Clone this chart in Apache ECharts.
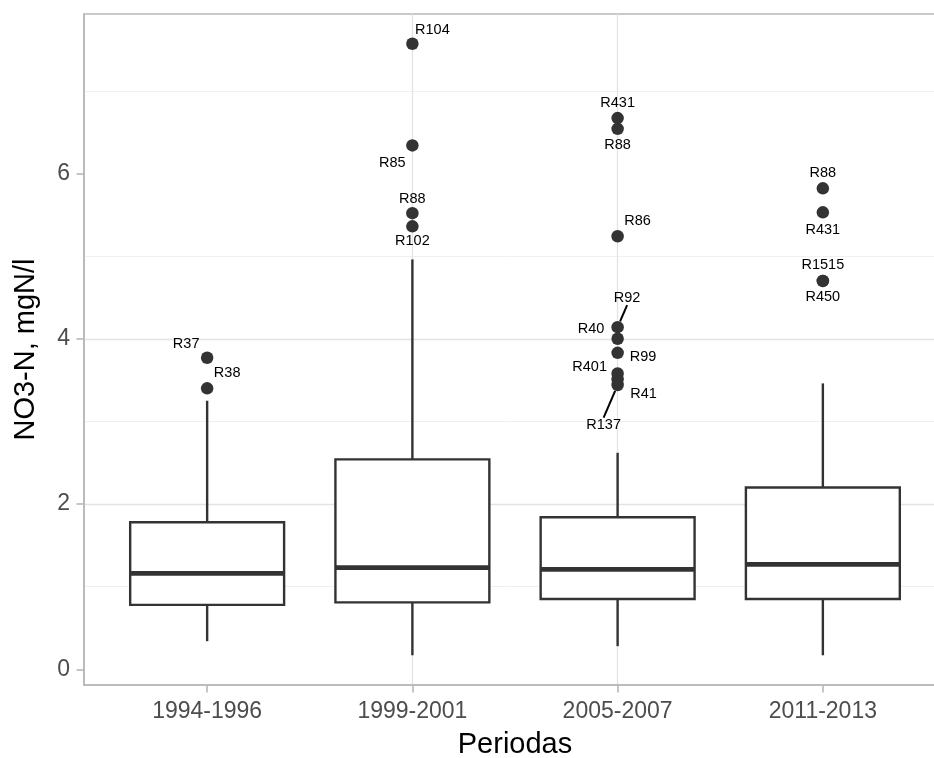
<!DOCTYPE html>
<html>
<head>
<meta charset="utf-8">
<script src="https://cdn.jsdelivr.net/npm/echarts@6/dist/echarts.min.js"></script>
<style>
  html, body { margin: 0; padding: 0; background: #ffffff; }
  #chart { width: 934px; height: 758px; }
</style>
</head>
<body>
<div id="chart"></div>
<script>
// Nitrate (NO3-N) concentrations by sampling period
const periods = ['1994-1996', '1999-2001', '2005-2007', '2011-2013'];
const whiskerLow  = [0.34, 0.17, 0.28, 0.17];
const quartile1   = [0.78, 0.81, 0.85, 0.85];
const medians     = [1.16, 1.23, 1.21, 1.27];
const quartile3   = [1.78, 2.54, 1.84, 2.20];
const whiskerHigh = [3.25, 4.96, 2.62, 3.46];

// Outlying stations
const outlierPeriod = ['1994-1996', '1994-1996',
  '1999-2001', '1999-2001', '1999-2001', '1999-2001',
  '2005-2007', '2005-2007', '2005-2007', '2005-2007', '2005-2007',
  '2005-2007', '2005-2007', '2005-2007', '2005-2007',
  '2011-2013', '2011-2013', '2011-2013', '2011-2013'];
const outlierValue = [3.77, 3.40,
  7.57, 6.34, 5.52, 5.36,
  6.67, 6.54, 5.24, 4.14, 4.00,
  3.83, 3.58, 3.51, 3.44,
  5.82, 5.53, 4.70, 4.70];
const outlierStation = ['R37', 'R38',
  'R104', 'R85', 'R88', 'R102',
  'R431', 'R88', 'R86', 'R92', 'R40',
  'R99', 'R401', 'R41', 'R137',
  'R88', 'R431', 'R1515', 'R450'];

const yTicks = [0, 2, 4, 6];

// Label placement (pixel shift from each point) and which labels get a leader segment
const labelShift = [[-21, -14], [20, -15],
  [20, -14], [-20, 18], [0, -14], [0, 14.5],
  [0, -15], [0, 16.5], [20, -15], [9.5, -29.5], [-26.5, -10],
  [25.5, 4], [-28, -6], [26, 14.5], [-14, 40],
  [0, -15.5], [0, 17.3], [0, -15.7], [0, 16.3]];
const withLeader = ['R92', 'R137'];

const FONT = '"Liberation Sans", Arial, sans-serif';
const INK = '#333333';
const FRAME = '#b8b8b8';
const BOX_HALF = 0.375;

const boxData = periods.map((p, k) => [k + 1, whiskerLow[k], quartile1[k], medians[k], quartile3[k], whiskerHigh[k]]);
const pointData = outlierValue.map((v, k) => ({
  value: [periods.indexOf(outlierPeriod[k]) + 1, v],
  name: outlierStation[k],
  labelLine: { show: withLeader.indexOf(outlierStation[k]) >= 0 && k >= 9 }
}));

const chart = echarts.init(document.getElementById('chart'), null, { renderer: 'canvas' });

chart.setOption({
  animation: false,
  backgroundColor: '#ffffff',
  textStyle: { fontFamily: FONT },
  grid: {
    left: 84, top: 14, width: 862, height: 671,
    outerBoundsMode: 'none', containLabel: false,
    show: true, borderColor: FRAME, borderWidth: 1.6, backgroundColor: 'transparent'
  },
  xAxis: {
    type: 'value', min: 0.4, max: 4.6,
    name: 'Periodas', nameLocation: 'middle', nameGap: 45,
    nameTextStyle: { fontSize: 29, color: '#000000', fontFamily: FONT },
    axisLine: { show: true, onZero: false, lineStyle: { color: FRAME, width: 1.6 } },
    axisTick: { show: true, length: 7.5, customValues: [1, 2, 3, 4], lineStyle: { color: FRAME, width: 1.6 } },
    axisLabel: {
      customValues: [1, 2, 3, 4], margin: 15, fontSize: 23, color: '#4d4d4d', fontFamily: FONT,
      formatter: v => periods[Math.round(v) - 1] || ''
    },
    splitLine: { show: true, showMinLine: false, showMaxLine: false, lineStyle: { color: '#e3e3e3', width: 1.3 } },
    minorSplitLine: { show: false }
  },
  yAxis: {
    type: 'value', min: -0.19, max: 7.93,
    name: 'NO3-N, mgN/l', nameLocation: 'middle', nameGap: 44, nameRotate: 90,
    nameTextStyle: { fontSize: 29, color: '#000000', fontFamily: FONT },
    axisLine: { show: true, onZero: false, lineStyle: { color: FRAME, width: 1.6 } },
    axisTick: { show: true, length: 7.5, customValues: yTicks, lineStyle: { color: FRAME, width: 1.6 } },
    axisLabel: { customValues: yTicks, margin: 14, fontSize: 23, color: '#4d4d4d', fontFamily: FONT },
    splitLine: { show: true, showMinLine: false, showMaxLine: false, lineStyle: { color: '#e3e3e3', width: 1.3 } },
    minorTick: { show: false, splitNumber: 2 },
    minorSplitLine: { show: true, lineStyle: { color: '#f0f0f0', width: 1 } }
  },
  series: [
    {
      type: 'custom',
      name: 'box',
      data: boxData,
      encode: { x: 0, y: [1, 2, 3, 4, 5] },
      z: 2,
      silent: true,
      renderItem: (params, api) => {
        const x = api.value(0);
        const lowEnd = api.coord([x, api.value(1)]);
        const q1Mid = api.coord([x, api.value(2)]);
        const q3Mid = api.coord([x, api.value(4)]);
        const highEnd = api.coord([x, api.value(5)]);
        const q1Left = api.coord([x - BOX_HALF, api.value(2)]);
        const q3Right = api.coord([x + BOX_HALF, api.value(4)]);
        const medLeft = api.coord([x - BOX_HALF, api.value(3)]);
        const medRight = api.coord([x + BOX_HALF, api.value(3)]);
        return {
          type: 'group',
          children: [
            { type: 'line', shape: { x1: q3Mid[0], y1: q3Mid[1], x2: highEnd[0], y2: highEnd[1] },
              style: { stroke: INK, lineWidth: 2.4 } },
            { type: 'line', shape: { x1: lowEnd[0], y1: lowEnd[1], x2: q1Mid[0], y2: q1Mid[1] },
              style: { stroke: INK, lineWidth: 2.4 } },
            { type: 'rect',
              shape: { x: q1Left[0], y: q3Right[1], width: q3Right[0] - q1Left[0], height: q1Left[1] - q3Right[1] },
              style: { fill: '#ffffff', stroke: INK, lineWidth: 2.4 } },
            { type: 'line', shape: { x1: medLeft[0], y1: medLeft[1], x2: medRight[0], y2: medRight[1] },
              style: { stroke: INK, lineWidth: 4.8 } }
          ]
        };
      }
    },
    {
      type: 'scatter',
      name: 'outliers',
      data: pointData,
      symbol: 'circle',
      symbolSize: 12.5,
      z: 3,
      silent: true,
      itemStyle: { color: INK, opacity: 1 },
      label: {
        show: true, position: 'inside', formatter: p => p.name,
        color: '#000000', fontSize: 14.5, fontFamily: FONT,
        textBorderWidth: 0, align: 'center', verticalAlign: 'middle'
      },
      labelLine: { show: false, lineStyle: { color: '#000000', width: 2 } },
      labelLayout: p => ({ dx: labelShift[p.dataIndex][0], dy: labelShift[p.dataIndex][1] })
    }
  ]
});
</script>
</body>
</html>
